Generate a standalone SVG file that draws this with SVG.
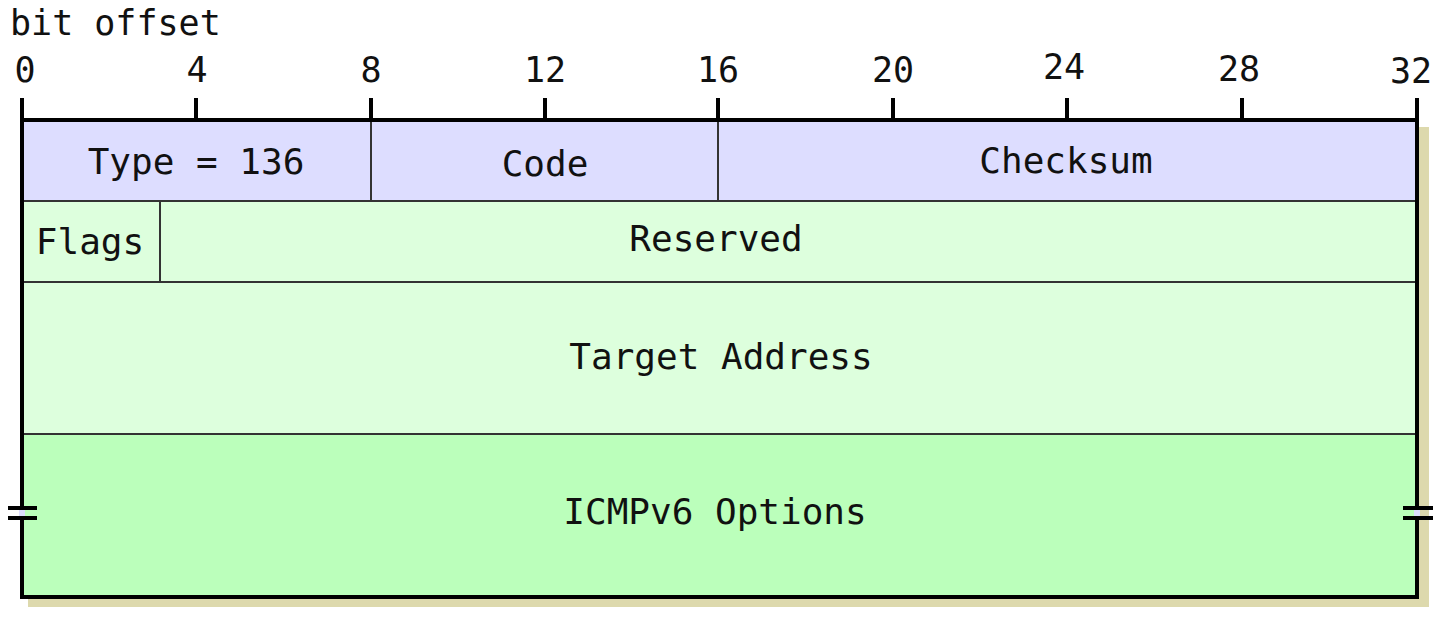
<svg xmlns="http://www.w3.org/2000/svg" width="1450" height="620" viewBox="0 0 1450 620">
<style>
text{font-family:"DejaVu Sans Mono","Liberation Mono",monospace;fill:#111;}
.lbl{font-size:35px;text-anchor:middle;}
.fld{font-size:36px;text-anchor:middle;}
.div{stroke:#333;stroke-width:2;fill:none;}
.frame{stroke:#000;stroke-width:4;fill:none;stroke-linecap:square;}
.tick{stroke:#000;stroke-width:4;}
</style>
<rect width="1450" height="620" fill="#fff"/>
<rect id="shadow" x="28" y="127" width="1401" height="480" fill="#DDD9AD"/>
<g id="ruler">
<text x="10" y="35" style="font-size:35px">bit offset</text>
<g class="tick">
<line x1="22" y1="98" x2="22" y2="120"/>
<line x1="196" y1="98" x2="196" y2="120"/>
<line x1="371" y1="98" x2="371" y2="120"/>
<line x1="545" y1="98" x2="545" y2="120"/>
<line x1="718" y1="98" x2="718" y2="120"/>
<line x1="893" y1="98" x2="893" y2="120"/>
<line x1="1067" y1="98" x2="1067" y2="120"/>
<line x1="1242" y1="98" x2="1242" y2="120"/>
<line x1="1417" y1="98" x2="1417" y2="120"/>
</g>
<text class="lbl" x="25" y="82">0</text>
<text class="lbl" x="197" y="82">4</text>
<text class="lbl" x="371" y="82">8</text>
<text class="lbl" x="545" y="82">12</text>
<text class="lbl" x="718" y="82">16</text>
<text class="lbl" x="893" y="82">20</text>
<text class="lbl" x="1064" y="79">24</text>
<text class="lbl" x="1239" y="81">28</text>
<text class="lbl" x="1411" y="83">32</text>
</g>
<g id="type">
<rect x="22" y="120" width="349" height="81" fill="#DDDDFF"/>
<text class="fld" x="196" y="174">Type = 136</text>
</g>
<g id="code">
<rect x="371" y="120" width="347" height="81" fill="#DDDDFF"/>
<text class="fld" x="545" y="176">Code</text>
</g>
<g id="checksum">
<rect x="718" y="120" width="699" height="81" fill="#DDDDFF"/>
<text class="fld" x="1066" y="173">Checksum</text>
</g>
<g id="flags">
<rect x="22" y="201" width="138" height="81" fill="#DDFFDD"/>
<text class="fld" x="90" y="254">Flags</text>
</g>
<g id="reserved">
<rect x="160" y="201" width="1257" height="81" fill="#DDFFDD"/>
<text class="fld" x="716" y="251">Reserved</text>
</g>
<g id="target">
<rect x="22" y="282" width="1395" height="152" fill="#DDFFDD"/>
<text class="fld" x="721" y="369">Target Address</text>
</g>
<g id="options">
<rect x="22" y="434" width="1395" height="163" fill="#BBFFBB"/>
<text class="fld" x="715" y="524">ICMPv6 Options</text>
</g>
<g id="connectors">
<line class="div" x1="371" y1="120" x2="371" y2="201"/>
<line class="div" x1="718" y1="120" x2="718" y2="201"/>
<line class="div" x1="160" y1="201" x2="160" y2="282"/>
<line class="div" x1="22" y1="201" x2="1417" y2="201"/>
<line class="div" x1="22" y1="282" x2="1417" y2="282"/>
<line class="div" x1="22" y1="434" x2="1417" y2="434"/>
<path class="frame" d="M22 508 V120 H1417 V508"/>
<path class="frame" d="M22 518 V597 H1417 V518"/>
<rect x="19" y="510" width="6" height="6" fill="#DDDDFF"/>
<rect x="1414" y="510" width="6" height="6" fill="#DDDDFF"/>
<g class="tick">
<line x1="8" y1="508" x2="37" y2="508"/>
<line x1="8" y1="518" x2="37" y2="518"/>
<line x1="1403" y1="508" x2="1433" y2="508"/>
<line x1="1403" y1="518" x2="1433" y2="518"/>
</g>
</g>
</svg>
